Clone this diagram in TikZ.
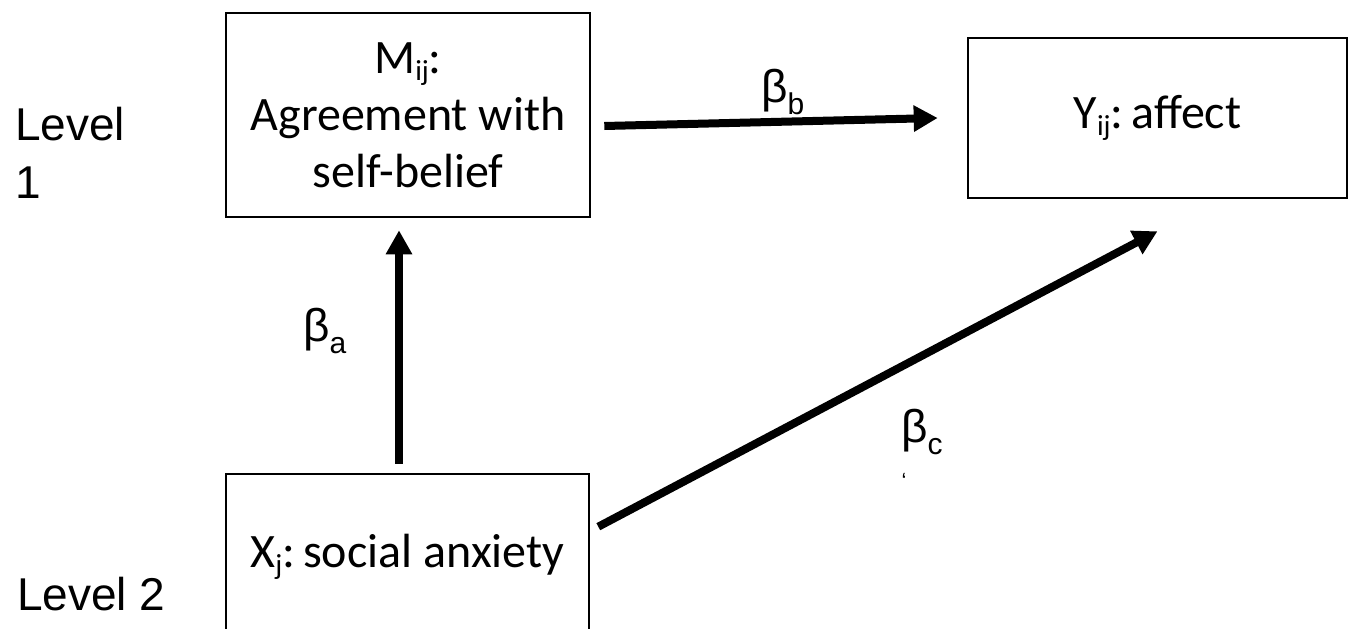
\documentclass[tikz,border=0pt]{standalone}
\usepackage{fontspec}
\setmainfont{Carlito}
\newfontfamily\arialf{Liberation Sans}
\usetikzlibrary{arrows.meta,calc}
\newcommand{\boxsub}[1]{\raisebox{-7pt}{\fontsize{29}{29}\selectfont #1}}
\newcommand{\lblsub}[1]{\raisebox{-12pt}{\fontsize{30}{30}\selectfont #1}}
\begin{document}
\begin{tikzpicture}[x=1pt,y=-1pt,
  box/.style={draw, line width=2.6pt, inner sep=0pt, align=center,
    font=\fontsize{48}{57}\selectfont},
  lbl/.style={inner sep=0pt, font=\arialf\fontsize{46}{46}\selectfont},
  arr/.style={line width=8pt, -{Triangle[length=24pt,width=25pt]}}]
\useasboundingbox[fill=white] (0,0) rectangle (1352,629);
\node[box, minimum width=364pt, minimum height=204pt] (M) at (408,115)
  {M\boxsub{ij}:\\Agreement with\\self-belief};
\node[box, minimum width=379pt, minimum height=160pt] (Y) at (1157.5,118)
  {Y\boxsub{ij}:\,affect};
\node[box, minimum width=363pt, minimum height=166pt] (X) at (407.5,557)
  {X\boxsub{j}:\,social anxiety};
\draw[arr] ($(X.north)+(-8.5,-9)$) -- ($(M.south)+(-9,12)$);
\draw[arr] ($(M.east)+(13,11)$) -- ($(Y.west)+(-29,0)$);
\draw[arr] ($(X.north east)+(8,54)$) -- ($(Y.south)+(0,32)$);
\node[lbl, anchor=base west] (L1) at (15,140) {Level};
\node[lbl, anchor=base west] (L1b) at (15,198) {1};
\node[lbl, anchor=base west] (L2) at (17,610) {Level 2};
\node[lbl, anchor=base west] (ba) at (303,341) {β\lblsub{a}};
\node[lbl, anchor=base west] (bb) at (761,102) {β\lblsub{b}};
\node[lbl, anchor=base west] (bc) at (901,442) {β\lblsub{c}};
\node[inner sep=0pt, font=\arialf\fontsize{22}{22}\selectfont] (q) at (904,481) {‘};
\end{tikzpicture}
\end{document}
